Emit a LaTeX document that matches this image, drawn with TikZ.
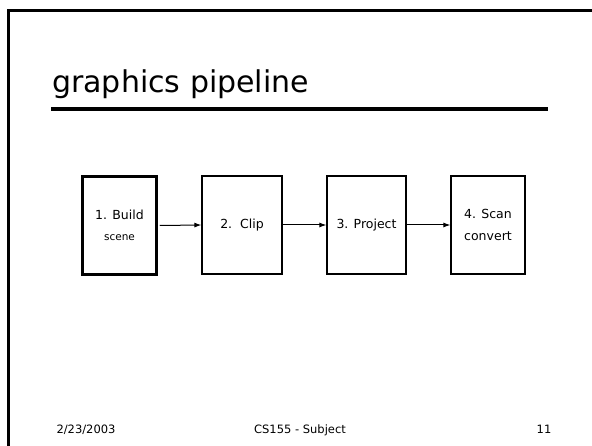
\documentclass[tikz,border=0pt]{standalone}
\usepackage{fontspec}
\setmainfont{DejaVu Sans}
\usetikzlibrary{positioning}
\usetikzlibrary{arrows.meta}
\tikzset{
    stepnode/.style = {rectangle, line width=1.2pt, draw=black, align=center, minimum height=98pt, inner sep=0pt, font=\fontsize{12.5}{16}\selectfont, text=black},
    stepnodeb/.style = {stepnode, line width=3.5pt},
    edgen/.style = {-{Latex[length=7pt,width=5pt]}, line width=1pt, black},
    footn/.style = {anchor=base, font=\fontsize{11.5}{13}\selectfont},
}

\begin{document}
\begin{tikzpicture}[x=1pt,y=-1pt]
\useasboundingbox (0,0) rectangle (592,446);
%
\draw[line width=3pt] (8,446) |- (592,11);
\node[anchor=base west, inner sep=0pt, font=\fontsize{30}{34}\selectfont] at (52,93) (title) {graphics pipeline};
\draw[line width=4pt] (51,109.5) -- (548,109.5);
%
\node[stepnodeb, minimum width=74pt] at (119.5,225.5) (a) {1. Build\\[5pt]{\fontsize{10.5}{12}\selectfont scene}};
\node[stepnode, minimum width=80pt] at (242,225) (b) {2.\ \ Clip};
\node[stepnode, minimum width=79pt] at (366.5,225) (c) {3. Project};
\node[stepnode, minimum width=74pt] at (488,225) (d) {4. Scan\\[6pt]convert};
%
\draw[edgen] (a.east) ++(1.5,0) -- (b.west);
\draw[edgen] (b) -- (c);
\draw[edgen] (c) -- (d);
%
\node[footn] at (86,433) (date) {2/23/2003};
\node[footn] at (300,433) (course) {CS155 - Subject};
\node[footn] at (544,433) (page) {11};

\end{tikzpicture}
\end{document}
